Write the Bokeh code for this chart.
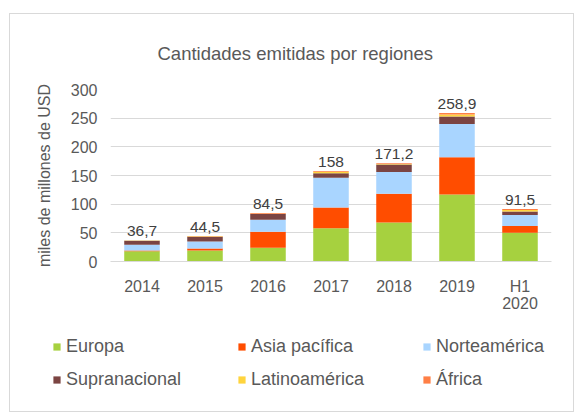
from bokeh.plotting import figure
from bokeh.layouts import column
from bokeh.models import Range1d, Legend, LegendItem, ColumnDataSource, LabelSet, FixedTicker
from bokeh.core.properties import value
from bokeh.embed import file_html
from bokeh.resources import INLINE

categories = ["2014", "2015", "2016", "2017", "2018", "2019", "H1\n2020"]
europa = [18, 19, 24, 58, 68, 117, 50]
asia = [1, 3.5, 28, 36, 50, 65, 12]
norte = [10, 12.5, 21, 52, 38, 58, 19]
supra = [7, 8, 10, 8, 13, 13, 6]
latin = [0.5, 1, 0.5, 2.5, 1.2, 3.5, 3]
africa = [0.2, 0.5, 1, 1.5, 1, 2.4, 1.5]
totals = [36.7, 44.5, 84.5, 158, 171.2, 258.9, 91.5]
total_labels = ["36,7", "44,5", "84,5", "158", "171,2", "258,9", "91,5"]
series_names = ["Europa", "Asia pacífica", "Norteamérica", "Supranacional", "Latinoamérica", "África"]
series_keys = ["europa", "asia", "norte", "supra", "latin", "africa"]
colors = ["#A6D13F", "#FF4D00", "#A9D5FF", "#7B4442", "#FFD43D", "#FF7F45"]
y_ticks = [0, 50, 100, 150, 200, 250, 300]

FONT = "Liberation Sans"
GREY = "#595959"

source = ColumnDataSource(dict(cat=categories, europa=europa, asia=asia, norte=norte,
                               supra=supra, latin=latin, africa=africa))
lab_src = ColumnDataSource(dict(cat=categories, total=totals, label=total_labels))

W = 563
p = figure(x_range=categories, y_range=Range1d(0, 300), width=W, height=308,
           output_backend="svg", toolbar_location=None,
           min_border_left=100, min_border_right=22, min_border_top=74, min_border_bottom=61)

p.title.text = "Cantidades emitidas por regiones"
p.title.text_font = FONT
p.title.text_font_size = "18.5px"
p.title.text_font_style = "normal"
p.title.text_color = GREY
p.title.align = "left"
p.title.offset = 47
p.title.standoff = 52

renderers = p.vbar_stack(series_keys, x="cat", width=0.564, source=source,
                         color=colors, line_color=None)

labels = LabelSet(x="cat", y="total", text="label", source=lab_src, y_offset=4,
                  text_align="center", text_baseline="bottom", text_font=value(FONT),
                  text_font_size="15.5px", text_color="#404040")
p.add_layout(labels)

p.yaxis.ticker = FixedTicker(ticks=y_ticks)
p.yaxis.axis_label = "miles de millones de USD"
p.yaxis.axis_label_text_font = FONT
p.yaxis.axis_label_text_font_size = "16px"
p.yaxis.axis_label_text_font_style = "normal"
p.yaxis.axis_label_text_color = GREY
p.yaxis.axis_label_standoff = 15
p.yaxis.axis_line_color = None
p.yaxis.major_tick_line_color = None
p.yaxis.minor_tick_line_color = None
p.yaxis.major_tick_out = 0
p.yaxis.major_tick_in = 0
p.yaxis.major_label_text_font = FONT
p.yaxis.major_label_text_font_size = "16px"
p.yaxis.major_label_text_color = GREY
p.yaxis.major_label_standoff = 13

p.xaxis.axis_line_color = "#d9d9d9"
p.xaxis.major_tick_line_color = None
p.xaxis.minor_tick_line_color = None
p.xaxis.major_tick_out = 0
p.xaxis.major_tick_in = 0
p.xaxis.major_label_text_font = FONT
p.xaxis.major_label_text_font_size = "16px"
p.xaxis.major_label_text_color = GREY
p.xaxis.major_label_text_line_height = 1.0
p.xaxis.major_label_standoff = 16

p.xgrid.grid_line_color = None
p.ygrid.grid_line_color = "#d9d9d9"
p.ygrid.grid_line_width = 1
p.outline_line_color = None
p.x_range.range_padding = 0.0

# legend strip: same stacked series as hidden renderers, only the legend is visible
p2 = figure(width=W, height=89, x_range=categories, y_range=Range1d(0, 300),
            output_backend="svg", toolbar_location=None,
            x_axis_location=None, y_axis_location=None,
            min_border_left=0, min_border_right=0, min_border_top=0, min_border_bottom=0)
p2.frame_align = False
p2.grid.visible = False
p2.outline_line_color = None
swatches = p2.vbar_stack(series_keys, x="cat", width=0.564, source=source,
                         color=colors, line_color=None)
for r in swatches:
    r.visible = False
items = [LegendItem(label=n, renderers=[r]) for n, r in zip(series_names, swatches)]
legend = Legend(items=items, orientation="horizontal", ncols=3, location=(42, 21),
                border_line_color=None, background_fill_alpha=0,
                inactive_fill_alpha=0,
                label_text_font=FONT, label_text_font_size="18px", label_text_color=GREY,
                glyph_width=9, glyph_height=9, label_standoff=5, label_width=159,
                label_height=20, spacing=12, padding=0, margin=0)
p2.add_layout(legend)

layout = column(p, p2, spacing=0,
                styles={"border": "1px solid #d9d9d9", "margin-left": "9px", "margin-top": "13px"})

open("out.html", "w").write(file_html(layout, INLINE))
